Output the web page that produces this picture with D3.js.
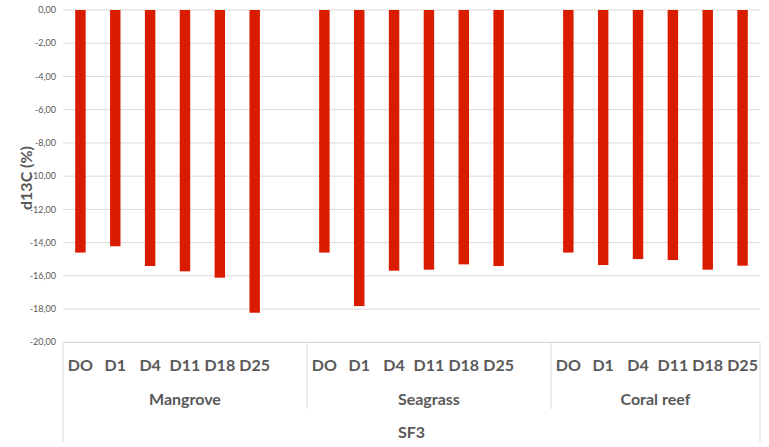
<!DOCTYPE html>
<html>
<head>
<meta charset="utf-8">
<script src="https://cdn.jsdelivr.net/npm/d3@7/dist/d3.min.js"></script>
<style>
  body { margin: 0; background: #fff; }
  svg text { font-family: Lato, "Open Sans", sans-serif; fill: #595959; }
</style>
</head>
<body>
<div id="chart"></div>
<script>
// 데이터
var groups = ["Mangrove", "Seagrass", "Coral reef"];
var days = ["DO", "D1", "D4", "D11", "D18", "D25"];
var mangrove = [-14.60, -14.22, -15.41, -15.73, -16.11, -18.22];
var seagrass = [-14.60, -17.82, -15.69, -15.63, -15.31, -15.41];
var coralReef = [-14.60, -15.35, -14.99, -15.05, -15.63, -15.39];
var yTicks = [0, -2, -4, -6, -8, -10, -12, -14, -16, -18, -20];
var outerLabel = "SF3";
var yTitle = "d13C (%)";

var width = 769, height = 447;
var plot = {left: 63, right: 760, top: 10, bottom: 342.3};

var seriesByGroup = [mangrove, seagrass, coralReef];
var rows = [];
var slots = [];
groups.forEach(function(g, gi){
    days.forEach(function(d, di){
        var key = g + "|" + d;
        slots.push(key);
        rows.push({group: g, day: d, key: key, value: seriesByGroup[gi][di]});
    });
    if(gi < groups.length - 1) slots.push("gap" + gi);   // 그룹 사이 빈 칸
});

var x = d3.scaleBand()
    .domain(slots)
    .range([plot.left, plot.right])
    .paddingInner(0.7)
    .paddingOuter(0.35);
var y = d3.scaleLinear().domain([-20, 0]).range([plot.bottom, plot.top]);

var loc = d3.formatLocale({decimal: ",", thousands: ".", grouping: [3], currency: ["", ""], minus: "-"});
var fmt = loc.format(".2f");

var svg = d3.select("#chart").append("svg")
    .attr("width", width)
    .attr("height", height);

// 가로 그리드
svg.append("g").selectAll("line").data(yTicks)
    .enter().append("line")
    .attr("x1", plot.left).attr("x2", plot.right)
    .attr("y1", function(d){ return y(d); })
    .attr("y2", function(d){ return y(d); })
    .attr("stroke", "#d9d9d9")
    .attr("stroke-width", 1);

svg.append("g").selectAll("text").data(yTicks)
    .enter().append("text")
    .attr("x", 56)
    .attr("y", function(d){ return y(d); })
    .attr("dy", "0.35em")
    .attr("text-anchor", "end")
    .style("font-size", "9px")
    .text(function(d){ return fmt(d); });

// 막대
svg.append("g").selectAll("rect").data(rows)
    .enter().append("rect")
    .attr("x", function(d){ return x(d.key); })
    .attr("width", x.bandwidth())
    .attr("y", y(0))
    .attr("height", function(d){ return y(d.value) - y(0); })
    .attr("fill", "#d91c00");

// 카테고리 축 (다단)
var step = x.step();
var slotStart = function(key){ return x(key) - step * 0.35; };
var axis = svg.append("g").attr("stroke", "#d9d9d9").attr("stroke-width", 1);
axis.append("line")
    .attr("x1", plot.left).attr("x2", plot.right)
    .attr("y1", plot.bottom).attr("y2", plot.bottom);
axis.append("line")
    .attr("x1", plot.left).attr("x2", plot.left)
    .attr("y1", plot.bottom).attr("y2", 442);
axis.append("line")
    .attr("x1", plot.right).attr("x2", plot.right)
    .attr("y1", plot.bottom).attr("y2", 442);

var bounds = groups.map(function(g, gi){
    var start = gi == 0 ? plot.left : slotStart(g + "|" + days[0]);
    var end = gi == groups.length - 1 ? plot.right : slotStart(groups[gi + 1] + "|" + days[0]);
    return {group: g, start: start, end: end};
});

axis.selectAll(".sep").data(bounds.slice(1))
    .enter().append("line")
    .attr("class", "sep")
    .attr("x1", function(d){ return d.start; })
    .attr("x2", function(d){ return d.start; })
    .attr("y1", plot.bottom).attr("y2", 409);

svg.append("g").selectAll("text").data(rows)
    .enter().append("text")
    .attr("x", function(d){ return x(d.key) + x.bandwidth() / 2; })
    .attr("y", 371)
    .attr("text-anchor", "middle")
    .style("font-size", "16px")
    .style("font-weight", "bold")
    .text(function(d){ return d.day; });

svg.append("g").selectAll("text").data(bounds)
    .enter().append("text")
    .attr("x", function(d){ return (d.start + d.end) / 2; })
    .attr("y", 405)
    .attr("text-anchor", "middle")
    .style("font-size", "16px")
    .style("font-weight", "bold")
    .text(function(d){ return d.group; });

svg.append("text")
    .attr("x", (plot.left + plot.right) / 2)
    .attr("y", 438)
    .attr("text-anchor", "middle")
    .style("font-size", "16px")
    .style("font-weight", "bold")
    .text(outerLabel);

svg.append("text")
    .attr("transform", "translate(32," + 178 + ") rotate(-90)")
    .attr("text-anchor", "middle")
    .style("font-size", "16px")
    .style("font-weight", "bold")
    .text(yTitle);
</script>
</body>
</html>
